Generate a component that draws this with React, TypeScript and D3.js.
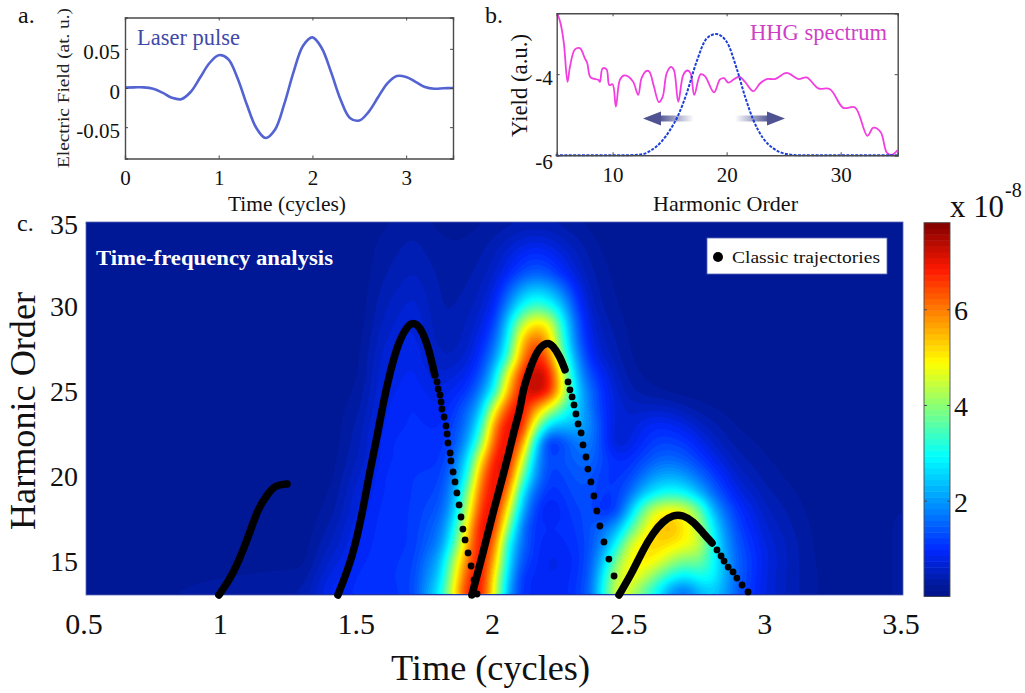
import React, { useEffect, useRef } from 'react'
import * as d3 from 'd3'

// panel a: laser pulse
const pulseTimes = [0, .1, .2, .3, .4, .5, .6, .7, .8, .9, 1, 1.1, 1.2, 1.3, 1.4, 1.5, 1.6, 1.7, 1.8, 1.9, 2, 2.1, 2.2, 2.3, 2.4, 2.5, 2.6, 2.7, 2.8, 2.9, 3, 3.1, 3.2, 3.3, 3.4, 3.5]
const pulseField = [.0005, .0008, .0008, -.001, -.006, -.0125, -.0143, -.0051, .013, .0316, .0419, .0371, .0129, -.0211, -.0508, -.0639, -.0533, -.0203, .0209, .0539, .0646, .0508, .0199, -.0147, -.0382, -.0415, -.0304, -.0119, .006, .0153, .014, .0079, .0013, -.001, -.0004, 0]
const pulseXTicks = [0, 1, 2, 3]
const pulseYTicks = [-.05, 0, .05]

// panel b: spectrum and filter window
const hhgOrders = [5.15, 5.44, 5.73, 6.05, 6.26, 6.7, 7.13, 7.57, 7.78, 8.07, 8.74, 8.89, 9.12, 9.47, 9.71, 10, 10.29, 10.64, 11.02, 11.37, 11.81, 12.25, 12.54, 12.98, 13.22, 13.63, 14.06, 14.39, 14.74, 15.12, 15.38, 15.76, 16.2, 16.55, 16.84, 17.16, 17.72, 18.1, 18.89, 19.42, 19.77, 20.15, 20.58, 21.11, 21.61, 22.34, 22.92, 23.51, 24.24, 25.26, 26.29, 27.02, 28.04, 29.06, 30.23, 31.26, 32.34, 32.87, 33.51, 34.04, 34.47, 35]
const hhgYield = [-2.5, -2.75, -3.24, -4.19, -3.82, -3.39, -3.36, -3.61, -3.73, -4.08, -4.14, -4.19, -3.86, -3.88, -4.27, -4.25, -4.8, -4.14, -4.03, -4.06, -4.19, -4.51, -4.1, -3.92, -3.94, -4.31, -4.69, -4.56, -3.98, -3.82, -3.9, -4.68, -4.02, -3.91, -3.98, -4.51, -4, -4.05, -4.45, -4.13, -4.1, -4.21, -4.14, -4.06, -4.19, -4.42, -4.23, -4.12, -4.12, -3.97, -4.12, -4.08, -4.35, -4.37, -4.83, -4.82, -5.52, -5.32, -5.43, -5.93, -5.99, -5.87]
const windowOrders = [5, 8, 11, 12, 12.7, 13.42, 14.3, 15.03, 15.76, 16.5, 17.37, 18.25, 19.06, 20, 20.88, 21.61, 22.34, 23.2, 24.1, 25.26, 26.3, 30, 35]
const windowYield = [-6, -6, -6, -5.99, -5.97, -5.87, -5.66, -5.38, -5.01, -4.47, -3.69, -3.12, -3.01, -3.2, -3.86, -4.55, -5.13, -5.58, -5.83, -5.97, -6, -6, -6]
const hhgXTicks = [10, 20, 30]
const hhgYTicks = [-6, -4]

// panel c: time-frequency map, values in units of 1e-8
const heatTimes = [.5, 1.3, 1.4, 1.5, 1.6, 1.7, 1.8, 1.85, 1.9, 1.95, 2, 2.05, 2.1, 2.15, 2.2, 2.25, 2.3, 2.35, 2.4, 2.45, 2.5, 2.55, 2.6, 2.65, 2.7, 2.75, 2.8, 2.85, 2.9, 3, 3.1, 3.2, 3.3, 3.4, 3.5]
const heatOrders = [13, 14, 15, 16, 17, 18, 19, 20, 21, 22, 23, 24, 25, 26, 27, 28, 29, 30, 32, 34, 35]
const heatValues = [
  [.15, .4, .95, 1, 1, 1.2, 2.9, 5, 7, 7, 4.7, 2, 1, .95, .9, .9, 1.1, 1.5, 3.1, 4.9, 4.3, 3.4, 2.6, 1.6, 1.2, 2, 2.4, 2, 1.3, .7, .4, .22, .17, .22, .26],
  [.15, .3, .8, 1, 1.05, 1.2, 2.5, 4.6, 6.6, 7.2, 4.9, 2.4, 1, .95, .85, .9, 1.05, 1.4, 2.9, 4.6, 4.9, 4.4, 3.6, 2.9, 2.6, 3, 3, 2.1, 1.4, .7, .4, .22, .17, .22, .26],
  [.15, .2, .65, .95, 1.05, 1.15, 2.2, 4.2, 6.1, 7.2, 5.6, 2.7, 1.3, 1, .8, .85, 1, 1.35, 2.4, 4, 5, 5.1, 4.8, 4.2, 3.8, 3.9, 3.1, 2.1, 1.4, .75, .4, .2, .17, .22, .26],
  [.15, .17, .5, .9, 1.05, 1.1, 1.8, 3.3, 5.6, 7.2, 6.2, 2.9, 1.6, 1, .9, .95, 1.05, 1.3, 1.9, 3, 4.6, 5.2, 5.3, 5.1, 4.9, 4.6, 3.1, 2, 1.3, .7, .4, .18, .17, .22, .26],
  [.15, .15, .4, .85, 1.05, 1.1, 1.6, 2.8, 5.1, 7.2, 6.8, 4, 1.6, 1, 1, 1, 1.1, 1.35, 1.6, 2.1, 3.4, 4.6, 5.4, 5.6, 5, 4.4, 2.9, 1.8, 1.15, .6, .35, .17, .17, .22, .26],
  [.15, .15, .3, .75, 1.05, 1.1, 1.4, 2.3, 4.4, 6.8, 7.2, 4.9, 2.2, 1.1, .75, 1, 1.2, 1.3, .9, 1.1, 2.4, 3.9, 4.8, 5, 4.8, 3.9, 2.3, 1.5, 1, .5, .3, .16, .16, .22, .25],
  [.15, .15, .25, .7, 1, 1.1, 1.25, 2, 3.9, 6.4, 7.2, 6, 2.7, 1.4, 1, 1.1, 1.3, 1.3, 1.1, 1.1, 1.6, 2.4, 2.9, 3.1, 2.9, 2.3, 1.6, 1.1, .75, .4, .25, .15, .15, .2, .22],
  [.15, .15, .2, .6, 1, 1.1, 1.15, 1.8, 3, 6, 7.2, 6.8, 3.8, 1.9, 1.1, 1.2, 1.4, 1.4, 1.1, 1.05, 1.2, 1.7, 2.1, 2.2, 2, 1.6, 1.2, .85, .55, .3, .2, .15, .15, .2, .22],
  [.15, .15, .17, .5, .95, 1.05, 1.05, 1.5, 2.6, 5.1, 7, 7.2, 4.9, 2.1, 1.2, 1.35, 1.5, 1.6, 1.2, .95, 1, 1.25, 1.5, 1.55, 1.4, 1.15, .85, .6, .4, .25, .18, .15, .15, .19, .21],
  [.15, .15, .15, .45, .95, 1.05, 1, 1.3, 2, 3.8, 6.5, 7.2, 6.2, 2.7, .8, 1.2, 1.7, 1.8, 1.1, .55, .75, 1, 1.2, 1.2, 1.1, .85, .6, .4, .3, .2, .15, .15, .15, .18, .2],
  [.15, .15, .15, .4, .9, 1, .95, 1.2, 1.7, 3, 6, 7.2, 7.1, 4.4, 2.5, 2.3, 2.3, 1.9, 1.1, .6, .65, .85, .95, .9, .75, .55, .4, .3, .22, .17, .15, .15, .15, .16, .18],
  [.15, .15, .15, .33, .85, 1, .85, 1.05, 1.5, 2.3, 4.8, 6.6, 7.2, 5.8, 4.6, 3.5, 2.6, 1.7, 1, .7, .55, .55, .55, .5, .4, .3, .25, .2, .17, .15, .15, .15, .15, .15, .16],
  [.15, .15, .15, .27, .8, .95, .75, .9, 1.05, 1.8, 3, 5.6, 7, 7.5, 7, 4.9, 2.6, 1.6, 1, .6, .4, .3, .25, .2, .18, .16, .15, .15, .15, .15, .15, .15, .15, .15, .15],
  [.15, .15, .15, .22, .75, .9, .6, .7, .85, 1.3, 2.5, 4.9, 6.8, 7.5, 7.1, 4.6, 2.3, 1.3, .85, .5, .3, .22, .18, .16, .15, .15, .15, .15, .15, .15, .15, .15, .15, .15, .15],
  [.15, .15, .15, .2, .7, .85, .5, .5, .65, 1.05, 1.9, 3.4, 5.9, 7, 6.2, 3.7, 2, .95, .6, .4, .25, .18, .16, .15, .15, .15, .15, .15, .15, .15, .15, .15, .15, .15, .15],
  [.15, .15, .15, .18, .62, .8, .42, .42, .55, .85, 1.5, 2.9, 5.4, 6.4, 5.5, 3.3, 1.6, .8, .5, .35, .22, .16, .15, .15, .15, .15, .15, .15, .15, .15, .15, .15, .15, .15, .15],
  [.15, .15, .15, .16, .55, .75, .38, .38, .5, .7, 1.15, 2.6, 4.4, 5.2, 4.9, 3, 1.5, .7, .42, .3, .2, .15, .15, .15, .15, .15, .15, .15, .15, .15, .15, .15, .15, .15, .15],
  [.15, .15, .15, .15, .48, .68, .36, .36, .42, .58, .9, 1.9, 3, 3.5, 3.2, 2.4, 1.2, .55, .35, .25, .18, .15, .15, .15, .15, .15, .15, .15, .15, .15, .15, .15, .15, .15, .15],
  [.15, .15, .15, .15, .36, .5, .34, .3, .33, .42, .58, .9, 1.25, 1.45, 1.3, .95, .65, .4, .28, .2, .15, .15, .15, .15, .15, .15, .15, .15, .15, .15, .15, .15, .15, .15, .15],
  [.15, .15, .15, .15, .28, .38, .26, .24, .25, .3, .38, .5, .62, .68, .62, .5, .38, .28, .2, .16, .15, .15, .15, .15, .15, .15, .15, .15, .15, .15, .15, .15, .15, .15, .15],
  [.15, .15, .15, .15, .22, .3, .2, .18, .2, .22, .26, .3, .33, .35, .33, .3, .25, .2, .17, .15, .15, .15, .15, .15, .15, .15, .15, .15, .15, .15, .15, .15, .15, .15, .15],
]
const mapXTicks = [.5, 1, 1.5, 2, 2.5, 3, 3.5]
const mapYTicks = [15, 20, 25, 30, 35]
const colorTicks = [2, 4, 6]

// classic trajectories, [time, harmonic order]; the dense parts look like a thick line
const denseArcs = [
  [[.988, 13], [.988, 13], [1.04, 14.18], [1.095, 16.36], [1.132, 18.13], [1.165, 18.9], [1.194, 19.49], [1.238, 19.55], [1.238, 19.55]],
  [[1.425, 13], [1.425, 13], [1.48, 15.24], [1.517, 18.02], [1.543, 20.38], [1.569, 22.32], [1.591, 24.33], [1.616, 26.1], [1.646, 27.87], [1.679, 28.85], [1.701, 29.1], [1.726, 28.85], [1.752, 27.87], [1.77, 26.75], [1.781, 25.98], [1.781, 25.98]],
  [[1.917, 13], [1.917, 13], [1.958, 15.48], [1.994, 17.84], [2.024, 19.61], [2.053, 21.38], [2.075, 22.91], [2.094, 23.92], [2.105, 25.15], [2.13, 26.33], [2.156, 27.44], [2.193, 27.95], [2.215, 27.7], [2.241, 27.04], [2.259, 26.28], [2.259, 26.28]],
  [[2.457, 13], [2.457, 13], [2.505, 14.3], [2.545, 15.66], [2.582, 16.66], [2.619, 17.35], [2.655, 17.72], [2.692, 17.72], [2.729, 17.35], [2.766, 16.66], [2.799, 16.07], [2.799, 16.07]],
]
const sparseDots = [
  [1.789, 25.57], [1.793, 25.15], [1.8, 24.8], [1.804, 24.39], [1.807, 23.97], [1.815, 23.5], [1.822, 22.97], [1.826, 22.5], [1.829, 21.97], [1.837, 21.38], [1.84, 20.91], [1.848, 20.26], [1.855, 19.67], [1.862, 19.02], [1.87, 18.31], [1.877, 17.6], [1.884, 16.89], [1.892, 16.25], [1.903, 15.48], [1.914, 14.71], [1.925, 13.89], [1.936, 13.06],
  [2.27, 25.57], [2.277, 25.1], [2.285, 24.68], [2.292, 24.21], [2.299, 23.68], [2.307, 23.09], [2.318, 22.56], [2.325, 21.85], [2.336, 21.14], [2.343, 20.43], [2.354, 19.67], [2.365, 18.84], [2.376, 17.96], [2.387, 17.07], [2.402, 16.13], [2.42, 15.12], [2.439, 14.12],
  [2.817, 15.66], [2.832, 15.3], [2.843, 15], [2.858, 14.65], [2.876, 14.36], [2.89, 14], [2.909, 13.59], [2.931, 13.18],
]

const FONT = '"Liberation Serif", "Times New Roman", serif'
const FRAME = '#4a4a4a'

const colorMax = 7.81
const jet = d3.scaleLinear<string>()
  .domain([0, .03, .125, .375, .625, .875, 1])
  .range(['#00128c', '#001a98', '#0028ff', '#00ffff', '#ffff00', '#ff1800', '#800000'])

function label(g: any, text: string, x: number, y: number, size: number, length?: number, opts: any = {}) {
  const t = g.append('text')
    .attr('x', x).attr('y', y)
    .attr('font-size', size)
    .attr('font-family', FONT)
    .attr('fill', opts.fill || '#111')
    .attr('text-anchor', opts.anchor || 'start')
    .text(text)
  if (length) t.attr('textLength', length).attr('lengthAdjust', 'spacingAndGlyphs')
  if (opts.bold) t.attr('font-weight', 'bold')
  if (opts.rotate) t.attr('transform', `rotate(-90 ${x} ${y})`)
  return t
}

// MATLAB style box: frame plus short inward ticks on all four sides
function boxAxes(g: any, x: any, y: any, xTicks: number[], yTicks: number[], size: number, xOff: number, yOff: number) {
  const [x0, x1] = x.range()
  const [y1, y0] = y.range()
  const bottom = g.append('g').attr('transform', `translate(0,${y1})`)
    .call(d3.axisBottom(x).tickValues(xTicks).tickSize(-3).tickFormat((d: any) => String(d)))
  const left = g.append('g').attr('transform', `translate(${x0},0)`)
    .call(d3.axisLeft(y).tickValues(yTicks).tickSize(-3).tickFormat((d: any) => String(d)))
  g.append('g').attr('transform', `translate(0,${y0})`)
    .call(d3.axisTop(x).tickValues(xTicks).tickSize(-3).tickFormat(() => ''))
  g.append('g').attr('transform', `translate(${x1},0)`)
    .call(d3.axisRight(y).tickValues(yTicks).tickSize(-3).tickFormat(() => ''))
  g.selectAll('.domain').attr('stroke', FRAME).attr('stroke-width', 1.4)
  g.selectAll('.tick line').attr('stroke', FRAME)
  bottom.selectAll('text').attr('y', xOff).attr('dy', 0)
  left.selectAll('text').attr('x', yOff).attr('dy', '.48em')
  g.selectAll('text').attr('font-size', size).attr('font-family', FONT).attr('fill', '#111')
  return left
}

function drawPulse(svg: any) {
  const g = svg.append('g')
  const x = d3.scaleLinear().domain([0, 3.5]).range([125, 453])
  const y = d3.scaleLinear().domain([-.09, .09]).range([158.5, 17.5])
  const line = d3.line<number>().x((_, i) => x(pulseTimes[i])).y(d => y(d)).curve(d3.curveCatmullRom)
  g.append('path').attr('d', line(pulseField)).attr('fill', 'none').attr('stroke', '#5363d2').attr('stroke-width', 2.6)
  boxAxes(g, x, y, pulseXTicks, pulseYTicks, 21, 26.5, -5)
  label(g, 'a.', 18, 23, 24)
  label(g, 'Laser pulse', 137, 45, 22.5, 103, { fill: '#4149a8' })
  label(g, 'Time (cycles)', 228, 211, 21, 118)
  label(g, 'Electric Field (at. u.)', 69, 168, 17.5, 160, { rotate: true, fill: '#222' })
}

function drawSpectrum(svg: any) {
  const g = svg.append('g')
  const x = d3.scaleLinear().domain([5.1, 35]).range([556.7, 897.7])
  const y = d3.scaleLinear().domain([-6, -2.5]).range([155.3, 13.3])
  const clipId = 'spectrum-clip'
  g.append('clipPath').attr('id', clipId).append('rect').attr('x', 556.7).attr('y', 13.3).attr('width', 341).attr('height', 142)

  // arrows under the curves
  const defs = g.append('defs')
  const grads = [['arrow-left', 1, 0], ['arrow-right', 0, 1]] as const
  grads.forEach(([id, from, to]) => {
    const lg = defs.append('linearGradient').attr('id', id)
    lg.append('stop').attr('offset', 0).attr('stop-color', '#4f5391').attr('stop-opacity', from)
    lg.append('stop').attr('offset', 1).attr('stop-color', '#4f5391').attr('stop-opacity', to)
  })
  g.append('rect').attr('x', 659).attr('y', 115.5).attr('width', 35).attr('height', 6).attr('fill', 'url(#arrow-left)')
  g.append('path').attr('d', 'M643,118.5L661,111.5L661,125.5Z').attr('fill', '#4f5391')
  g.append('rect').attr('x', 735).attr('y', 115.5).attr('width', 35).attr('height', 6).attr('fill', 'url(#arrow-right)')
  g.append('path').attr('d', 'M785,118.5L767,111.5L767,125.5Z').attr('fill', '#4f5391')

  const spectrum = d3.line<number>().x((_, i) => x(hhgOrders[i])).y(d => y(d)).curve(d3.curveCatmullRom.alpha(.5))
  g.append('path').attr('clip-path', `url(#${clipId})`).attr('d', spectrum(hhgYield)).attr('fill', 'none').attr('stroke', '#f23ee0').attr('stroke-width', 1.8)
  const filter = d3.line<number>().x((_, i) => x(windowOrders[i])).y(d => y(d)).curve(d3.curveMonotoneX)
  g.append('path').attr('d', filter(windowYield)).attr('fill', 'none').attr('stroke', '#1c3fd8').attr('stroke-width', 2).attr('stroke-dasharray', '3 1.4')
  const left = boxAxes(g, x, y, hhgXTicks, hhgYTicks, 21, 27, -4)
  left.selectAll('text').filter((d: any) => d === -6).attr('dy', '.62em')
  label(g, 'b.', 485, 23, 24)
  label(g, 'HHG spectrum', 750, 40, 22.5, 137, { fill: '#cf3fc6' })
  label(g, 'Yield (a.u.)', 527, 137, 23.5, 103, { rotate: true })
  label(g, 'Harmonic Order', 653, 211, 22, 145)
}

function drawMap(svg: any) {
  const g = svg.append('g')
  const x = d3.scaleLinear().domain([.5, 3.5]).range([86, 903])
  const y = d3.scaleLinear().domain([13, 35]).range([595, 222])

  // resample the table on a fine pixel grid, then smooth it
  const cell = 3
  const nx = Math.round((903 - 86) / cell)
  const ny = Math.round((595 - 222) / cell)
  const timeIndex = d3.scaleLinear().domain(heatTimes).range(heatTimes.map((_, i) => i)).clamp(true)
  const orderIndex = d3.scaleLinear().domain(heatOrders).range(heatOrders.map((_, i) => i)).clamp(true)
  const fine = new Float64Array(nx * ny)
  for (let j = 0; j < ny; j++) {
    const r = orderIndex(y.invert(222 + (j + .5) * cell))
    const r0 = Math.min(Math.floor(r), heatOrders.length - 2)
    for (let i = 0; i < nx; i++) {
      const c = timeIndex(x.invert(86 + (i + .5) * cell))
      const c0 = Math.min(Math.floor(c), heatTimes.length - 2)
      const a = heatValues[r0][c0] + (heatValues[r0][c0 + 1] - heatValues[r0][c0]) * (c - c0)
      const b = heatValues[r0 + 1][c0] + (heatValues[r0 + 1][c0 + 1] - heatValues[r0 + 1][c0]) * (c - c0)
      fine[j * nx + i] = a + (b - a) * (r - r0)
    }
  }
  d3.blur2({ data: fine, width: nx, height: ny }, 1.2)

  const levels = d3.range(64)
  const contours = d3.contours().size([nx, ny]).thresholds(levels.map(l => l * colorMax / 64))
  const bands = contours(Array.from(fine))
  const path = d3.geoPath(d3.geoTransform({
    point(px: number, py: number) { (this as any).stream.point(86 + px * cell, 222 + py * cell) },
  }))
  g.append('rect').attr('x', 86).attr('y', 222).attr('width', 817).attr('height', 373).attr('fill', jet(.5 / 64))
  g.append('g').selectAll('path').data(bands).join('path')
    .attr('d', (d: any) => path(d))
    .attr('fill', (_: any, i: number) => jet((i + .5) / 64))
  g.append('rect').attr('x', 86).attr('y', 222).attr('width', 817).attr('height', 373)
    .attr('fill', 'none').attr('stroke', '#5a68b8').attr('stroke-width', .8)

  // trajectories
  const arc = d3.line<number[]>().x(d => x(d[0])).y(d => y(d[1])).curve(d3.curveBasis)
  g.append('g').selectAll('path').data(denseArcs).join('path')
    .attr('d', (d: any) => arc(d))
    .attr('fill', 'none').attr('stroke', '#000').attr('stroke-width', 7.5).attr('stroke-linecap', 'round')
  g.append('g').selectAll('circle').data(sparseDots).join('circle')
    .attr('cx', (d: number[]) => x(d[0])).attr('cy', (d: number[]) => y(d[1])).attr('r', 3.4).attr('fill', '#000')

  // axes, labels only
  const bottom = g.append('g').attr('transform', 'translate(-2.5,595)')
    .call(d3.axisBottom(x).tickValues(mapXTicks).tickSize(0).tickFormat((d: any) => String(d)))
  const left = g.append('g').attr('transform', 'translate(86,0)')
    .call(d3.axisLeft(y).tickValues(mapYTicks).tickSize(0).tickFormat((d: any) => String(d)))
  bottom.select('.domain').remove()
  left.select('.domain').remove()
  bottom.selectAll('text').attr('y', 39).attr('dy', 0).attr('font-size', 30).attr('font-family', FONT).attr('fill', '#111')
  left.selectAll('text').attr('x', -8).attr('font-size', 28).attr('font-family', FONT).attr('fill', '#111')
  left.selectAll('text').filter((d: any) => d === 35).attr('dy', '.42em')

  label(g, 'c.', 17, 231, 24)
  label(g, 'Time-frequency analysis', 96, 265, 20, 237, { fill: '#fff', bold: true })
  label(g, 'Time (cycles)', 391, 680, 36, 199)
  label(g, 'Harmonic Order', 35, 530, 36, 238, { rotate: true })

  // legend
  g.append('rect').attr('x', 707).attr('y', 238).attr('width', 180).attr('height', 36).attr('fill', '#fff').attr('stroke', '#5a68b8').attr('stroke-width', .8)
  g.append('circle').attr('cx', 718).attr('cy', 257).attr('r', 5).attr('fill', '#000')
  label(g, 'Classic trajectories', 732, 263, 17.5, 148)
}

function drawColorbar(svg: any) {
  const g = svg.append('g')
  const c = d3.scaleLinear().domain([0, colorMax]).range([596.4, 222.7])
  const steps = d3.range(64)
  g.append('g').selectAll('rect').data(steps).join('rect')
    .attr('x', 924).attr('width', 26)
    .attr('y', (i: number) => c((i + 1) * colorMax / 64))
    .attr('height', (i: number) => c(i * colorMax / 64) - c((i + 1) * colorMax / 64) + .5)
    .attr('fill', (i: number) => jet((i + .5) / 64))
  g.append('rect').attr('x', 924).attr('y', 222.7).attr('width', 26).attr('height', 373.7).attr('fill', 'none').attr('stroke', FRAME).attr('stroke-width', .9)
  const right = g.append('g').attr('transform', 'translate(950,0)')
    .call(d3.axisRight(c).tickValues(colorTicks).tickSize(-3).tickFormat((d: any) => String(d)))
  g.append('g').attr('transform', 'translate(924,0)')
    .call(d3.axisLeft(c).tickValues(colorTicks).tickSize(-3).tickFormat(() => ''))
  g.selectAll('.domain').remove()
  g.selectAll('.tick line').attr('stroke', FRAME)
  right.selectAll('text').attr('x', 4).attr('dy', '.38em').attr('font-size', 28).attr('font-family', FONT).attr('fill', '#111')
  label(g, 'x 10', 950, 217, 31, 54)
  label(g, '-8', 1005, 197, 20)
}

export default function App() {
  const ref = useRef<SVGSVGElement>(null)
  useEffect(() => {
    const svg = d3.select(ref.current)
    svg.selectAll('*').remove()
    drawPulse(svg)
    drawSpectrum(svg)
    drawMap(svg)
    drawColorbar(svg)
  }, [])
  return <svg ref={ref} width={1025} height={693} style={{ position: 'absolute', left: 0, top: 0, background: '#fff' }} />
}
